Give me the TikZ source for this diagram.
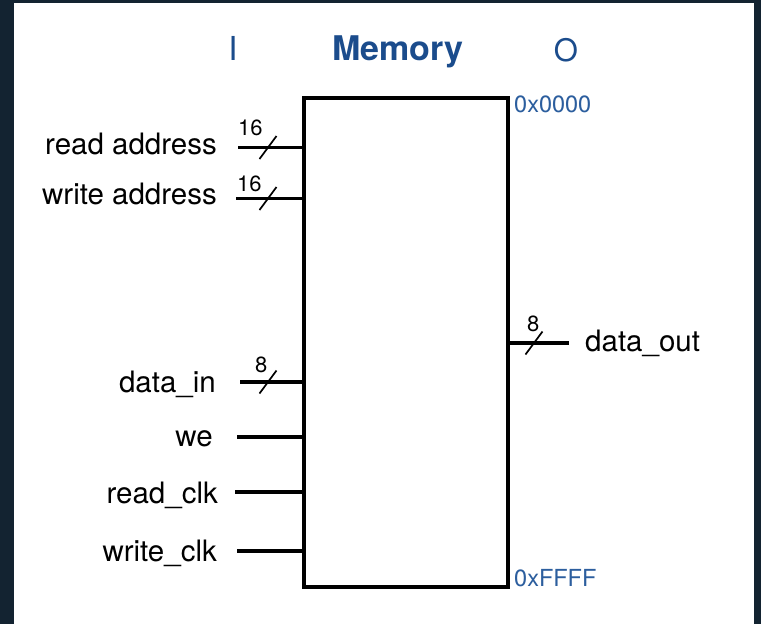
\documentclass[tikz,border=0pt]{standalone}
\usepackage{fontspec}
\setmainfont{TeX Gyre Heros}
\definecolor{framebg}{HTML}{132331}
\definecolor{titleblue}{HTML}{1B4C8C}
\definecolor{hexblue}{HTML}{2C5E9E}
\tikzset{
  pinlabel/.style={inner sep=0pt, anchor=base east, font=\fontsize{29.5}{35}\selectfont},
  buswidth/.style={inner sep=0pt, anchor=base west, font=\fontsize{22}{26}\selectfont},
  hexlabel/.style={inner sep=0pt, anchor=base west, text=hexblue, font=\fontsize{23.5}{28}\selectfont},
  headlabel/.style={inner sep=0pt, anchor=base, text=titleblue, font=\fontsize{31}{37}\selectfont},
  wire/.style={line width=3.5pt},
  busmark/.style={line width=1.7pt},
  membox/.style={draw, line width=3.8pt, anchor=north west, inner sep=0pt,
                 minimum width=204pt, minimum height=489pt}
}
\begin{document}
\begin{tikzpicture}[x=1pt,y=-1pt]
  % frame and canvas
  \fill[framebg] (0,0) rectangle (761,624);
  \fill[white] (14,3) rectangle (754,624);
  \useasboundingbox (0,0) rectangle (761,624);

  % headings
  \node[headlabel, font=\fontsize{33}{38}\selectfont] (hin) at (233,60) {I};
  \node[headlabel, font=\fontsize{34}{40}\selectfont\bfseries] (htitle) at (398,60) {Memory};
  \node[headlabel] (hout) at (566,61) {O};

  % memory block
  \node[membox] (mem) at (302,96) {};
  \node[hexlabel] (lo) at (514,112) {0x0000};
  \node[hexlabel] (hi) at (514,586) {0xFFFF};

  % input pins: wire start points
  \coordinate (ra) at (238,147.5);
  \coordinate (wa) at (236,198.5);
  \coordinate (din) at (240,382);
  \coordinate (we) at (237,437);
  \coordinate (rclk) at (235,492);
  \coordinate (wclk) at (237,551);

  \node[pinlabel] (lra) at (217,154) {read address};
  \node[pinlabel] (lwa) at (217,204) {write address};
  \node[pinlabel] (ldin) at (216,392) {data\_in};
  \node[pinlabel] (lwe) at (213,446) {we};
  \node[pinlabel] (lrclk) at (218,503) {read\_clk};
  \node[pinlabel] (lwclk) at (217,561) {write\_clk};

  \foreach \p in {ra,wa,din,we,rclk,wclk}
    \draw[wire] (\p) -- (\p -| mem.west);

  % output pin
  \coordinate (dout) at (569,343);
  \draw[wire] (dout -| mem.east) -- (dout);
  \node[pinlabel, anchor=base west] (ldout) at (585,351) {data\_out};

  % bus width marks
  \draw[busmark] ([shift={(-8.5,11.5)}]268,147.5) -- ++(17,-23);
  \draw[busmark] ([shift={(-8.5,11.5)}]268,198.5) -- ++(17,-23);
  \draw[busmark] ([shift={(-8.5,11.5)}]268,382) -- ++(17,-23);
  \draw[busmark] ([shift={(-8.5,11.5)}]534,343) -- ++(17,-23);
  \node[buswidth] (bra) at (238,135) {16};
  \node[buswidth] (bwa) at (237,191) {16};
  \node[buswidth] (bdin) at (255,372) {8};
  \node[buswidth] (bdout) at (527,331) {8};
\end{tikzpicture}
\end{document}
